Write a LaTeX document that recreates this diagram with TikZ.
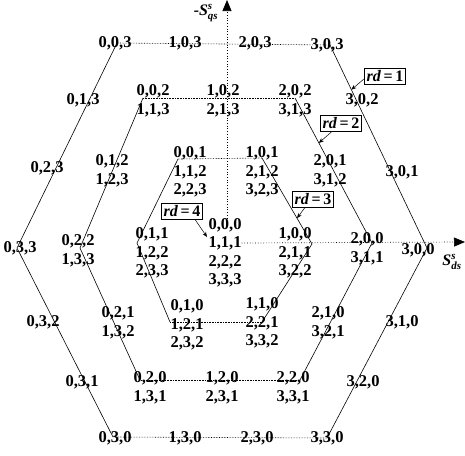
\documentclass[tikz,border=0pt]{standalone}
\usepackage{fontspec}
\setmainfont{Liberation Serif}
\usetikzlibrary{arrows.meta,calc}
\tikzset{vlabel/.style={font=\fontsize{16.5}{18.5}\selectfont\bfseries,
      align=center, inner sep=0pt},
    rdbox/.style={draw, line width=0.6pt, inner sep=2.5pt,
      font=\fontsize{16}{16}\selectfont\bfseries},
    axlabel/.style={font=\fontsize{16}{16}\selectfont\bfseries\itshape, inner sep=0pt},
    slant/.style={line width=0.6pt},
    flat/.style={line width=0.6pt, densely dotted},
    axis/.style={line width=0.7pt, dotted, -{Triangle[length=11pt,width=9pt]}},
    pointer/.style={line width=0.5pt, -{Stealth[length=5pt,width=4pt]}},
    }
\newcommand\axtxt[1]{\hbox{\fontsize{11}{11}\selectfont\bfseries\itshape #1}}

\begin{document}
\begin{tikzpicture}[x=1pt,y=-1pt]
\useasboundingbox (0,0) rectangle (465,455);
% hexagon corners
\coordinate (a1) at (117,43);  \coordinate (a2) at (330,45);
\coordinate (a3) at (427,248); \coordinate (a4) at (327,438);
\coordinate (a5) at (113,437); \coordinate (a6) at (17,248);
\coordinate (b1) at (143,98);  \coordinate (b2) at (295,98);
\coordinate (b3) at (372,243); \coordinate (b4) at (300,380);
\coordinate (b5) at (140,380); \coordinate (b6) at (80,248);
\coordinate (c1) at (178,159); \coordinate (c2) at (262,158);
\coordinate (c3) at (312,244); \coordinate (c4) at (262,322);
\coordinate (c5) at (170,322); \coordinate (c6) at (137,243);
\foreach \h in {a,b,c}{
  \draw[flat] (\h1) -- (\h2);
  \draw[slant] (\h2) -- (\h3) -- (\h4);
  \draw[flat] (\h4) -- (\h5);
  \draw[slant] (\h5) -- (\h6) -- (\h1);
}
% rd = 1
\node[vlabel] (n003) at (115,43) {0,0,3};
\node[vlabel] (n103) at (185,43) {1,0,3};
\node[vlabel] (n203) at (255,43) {2,0,3};
\node[vlabel] (n303) at (327,45) {3,0,3};
\node[vlabel] (n302) at (362,100) {3,0,2};
\node[vlabel] (n301) at (402,172) {3,0,1};
\node[vlabel] (n300) at (418,250) {3,0,0};
\node[vlabel] (n310) at (402,322) {3,1,0};
\node[vlabel] (n320) at (363,382) {3,2,0};
\node[vlabel] (n330) at (327,438) {3,3,0};
\node[vlabel] (n230) at (257,438) {2,3,0};
\node[vlabel] (n130) at (185,438) {1,3,0};
\node[vlabel] (n030) at (115,438) {0,3,0};
\node[vlabel] (n031) at (82,382) {0,3,1};
\node[vlabel] (n032) at (43,322) {0,3,2};
\node[vlabel] (n033) at (20,248) {0,3,3};
\node[vlabel] (n023) at (47,168) {0,2,3};
\node[vlabel] (n013) at (83,100) {0,1,3};
% rd = 2
\node[vlabel] (m002) at (153,101) {0,0,2\\1,1,3};
\node[vlabel] (m102) at (223,101) {1,0,2\\2,1,3};
\node[vlabel] (m202) at (295,101) {2,0,2\\3,1,3};
\node[vlabel] (m201) at (330,171) {2,0,1\\3,1,2};
\node[vlabel] (m200) at (367,249) {2,0,0\\3,1,1};
\node[vlabel] (m210) at (328,323) {2,1,0\\3,2,1};
\node[vlabel] (m220) at (293,388) {2,2,0\\3,3,1};
\node[vlabel] (m120) at (222,388) {1,2,0\\2,3,1};
\node[vlabel] (m020) at (150,388) {0,2,0\\1,3,1};
\node[vlabel] (m021) at (118,323) {0,2,1\\1,3,2};
\node[vlabel] (m022) at (78,251) {0,2,2\\1,3,3};
\node[vlabel] (m012) at (112,171) {0,1,2\\1,2,3};
% rd = 3
\node[vlabel] (i001) at (190,172) {0,0,1\\1,1,2\\2,2,3};
\node[vlabel] (i101) at (262,172) {1,0,1\\2,1,2\\3,2,3};
\node[vlabel] (i100) at (295,253) {1,0,0\\2,1,1\\3,2,2};
\node[vlabel] (i110) at (262,323) {1,1,0\\2,2,1\\3,3,2};
\node[vlabel] (i010) at (187,325) {0,1,0\\1,2,1\\2,3,2};
\node[vlabel] (i011) at (152,253) {0,1,1\\1,2,2\\2,3,3};
% rd = 4
\node[vlabel] (c0) at (225,253) {0,0,0\\1,1,1\\2,2,2\\3,3,3};
% axes
\coordinate (org) at (225,243);
\coordinate (dtip) at (465,242);
\coordinate (qtip) at (227,0);
\draw[axis] (c0.east |- org) -- (dtip);
\draw[axis] (c0.north -| qtip) -- (qtip);
\node[axlabel] (qlab) at (206,13) {-S$^{\axtxt{s}}_{\axtxt{qs}}$};
\node[axlabel] (dlab) at (452,262) {S$^{\axtxt{s}}_{\axtxt{ds}}$};
% rd boxes
\node[rdbox] (rd1) at (385,76) {\textit{rd}\kern2.5pt=\kern2.5pt1};
\node[rdbox] (rd2) at (341,123) {\textit{rd}\kern2.5pt=\kern2.5pt2};
\node[rdbox] (rd3) at (313,199) {\textit{rd}\kern2.5pt=\kern2.5pt3};
\node[rdbox] (rd4) at (182,211) {\textit{rd}\kern2.5pt=\kern2.5pt4};
\coordinate (t1) at ($(a2)!0.22!(a3)$);
\coordinate (t2) at ($(b2)!0.31!(b3)$);
\coordinate (t3) at ($(c2)!0.70!(c3)$);
\coordinate (t4) at (207,237);
\draw[pointer] ([yshift=-3pt]rd1.west) -- (t1);
\draw[pointer] ([xshift=-9pt]rd2.south) -- (t2);
\draw[pointer] ([xshift=-8pt]rd3.south) -- (t3);
\draw[pointer] ([xshift=13pt]rd4.south) -- (t4);
\end{tikzpicture}
\end{document}
